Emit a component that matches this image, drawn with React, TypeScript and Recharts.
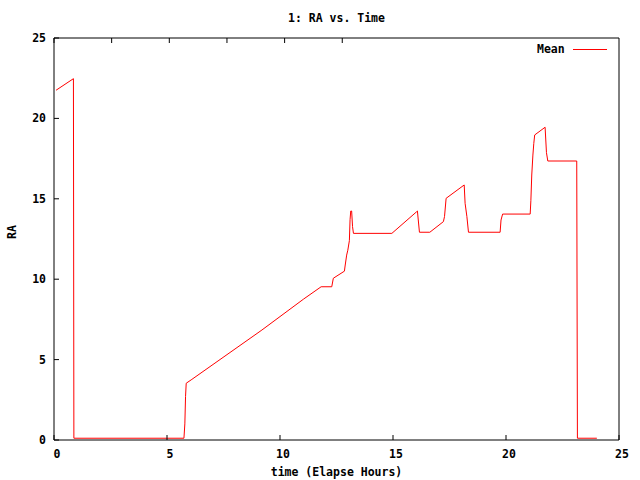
import { LineChart, Line, XAxis, YAxis, Legend } from 'recharts'

// elapsed hours and mean RA
const hours = [
  0.09, 0.86, 0.88, 5.75, 5.79, 5.82, 5.85, 6.1, 9.2, 11.05, 11.82, 12.29, 12.36, 12.85,
  12.88, 12.95, 13.0, 13.07, 13.1, 13.13, 13.17, 13.21, 13.25, 14.95, 16.05, 16.08,
  16.17, 16.63, 17.23, 17.28, 17.35, 18.15, 18.19, 18.27, 18.34, 19.74, 19.78, 19.85,
  21.07, 21.1, 21.14, 21.19, 21.23, 21.27, 21.73, 21.79, 21.85, 23.13, 23.16, 24.02,
]
const meanRA = [
  21.75, 22.47, 0.11, 0.11, 1.0, 2.7, 3.53, 3.77, 6.84, 8.77, 9.53, 9.53, 10.06, 10.5,
  10.82, 11.5, 11.8, 12.4, 13.7, 14.24, 14.24, 13.27, 12.85, 12.85, 14.2, 14.24,
  12.92, 12.92, 13.58, 13.9, 15.03, 15.86, 14.72, 13.89, 12.92, 12.92, 13.68, 14.05,
  14.05, 14.88, 16.48, 17.72, 18.45, 18.97, 19.45, 17.87, 17.35, 17.35, 0.11, 0.11,
]
const xTicks = [0, 5, 10, 15, 20, 25]
const yTicks = [0, 5, 10, 15, 20, 25]

const data = hours.map((t, i) => ({ t, ra: meanRA[i] }))

const FONT = '"DejaVu Sans Mono", monospace'
const TICK = 5

const txt = { fontSize: 11.5, fontWeight: 700, fill: '#000', fontFamily: FONT }

function BottomTick({ x, y, payload }: any) {
  return (
    <g>
      <line x1={x} x2={x} y1={y} y2={y - TICK} stroke="#000" />
      <text x={x + 3} y={y + 18} textAnchor="middle" {...txt}>{payload.value}</text>
    </g>
  )
}

function TopTick({ x, y }: any) {
  return <line x1={x} x2={x} y1={y} y2={y + TICK} stroke="#000" />
}

function LeftTick({ x, y, payload }: any) {
  return (
    <g>
      <line x1={x} x2={x + TICK} y1={y} y2={y} stroke="#000" />
      <text x={x - 8} y={y + 4} textAnchor="end" {...txt}>{payload.value}</text>
    </g>
  )
}

function RightTick({ x, y }: any) {
  return <line x1={x} x2={x - TICK} y1={y} y2={y} stroke="#000" />
}

function MeanLegend() {
  return (
    <div style={{ display: 'flex', alignItems: 'center', fontFamily: FONT, fontSize: 11.5, fontWeight: 700, lineHeight: '14px' }}>
      <span>Mean</span>
      <svg width={40} height={10} style={{ marginLeft: 8 }}>
        <line x1={0} x2={34} y1={5.5} y2={5.5} stroke="#ff0000" />
      </svg>
    </div>
  )
}

export default function App() {
  return (
    <div style={{ width: 640, height: 480, background: '#fff', fontFamily: FONT }}>
      <style>{'body{margin:0}'}</style>
      <LineChart width={640} height={480} data={data} margin={{ top: 0, right: 0, bottom: 0, left: 0 }}>
        <XAxis
          xAxisId="b" dataKey="t" type="number" domain={[0, 25]} ticks={xTicks} interval={0}
          height={40} tickSize={0} tickMargin={0} tickLine={false} axisLine={{ stroke: '#000' }}
          tick={<BottomTick />}
          label={{ value: 'time (Elapse Hours)', position: 'insideBottom', offset: 4, ...txt }}
        />
        <XAxis
          xAxisId="t" orientation="top" type="number" domain={[0, 25]} ticks={xTicks} interval={0}
          height={38} tickSize={0} tickMargin={0} tickLine={false} axisLine={{ stroke: '#000' }}
          tick={<TopTick />}
          label={{ value: '1: RA vs. Time', position: 'insideTop', offset: 14, ...txt }}
        />
        <YAxis
          yAxisId="l" type="number" domain={[0, 25]} ticks={yTicks} interval={0}
          width={54} tickSize={0} tickMargin={0} tickLine={false} axisLine={{ stroke: '#000' }}
          tick={<LeftTick />}
          label={{ value: 'RA', angle: -90, position: 'insideLeft', offset: 12, ...txt }}
        />
        <YAxis
          yAxisId="r" orientation="right" type="number" domain={[0, 25]} ticks={yTicks} interval={0}
          width={21} tickSize={0} tickMargin={0} tickLine={false} axisLine={{ stroke: '#000' }}
          tick={<RightTick />}
        />
        <Legend
          layout="horizontal" verticalAlign="middle" align="center"
          wrapperStyle={{ top: 42, left: 537, width: 90 }}
          content={<MeanLegend />}
        />
        <Line
          xAxisId="b" yAxisId="l" dataKey="ra" name="Mean" type="linear"
          stroke="#ff0000" strokeWidth={1} dot={false} isAnimationActive={false}
        />
      </LineChart>
    </div>
  )
}
